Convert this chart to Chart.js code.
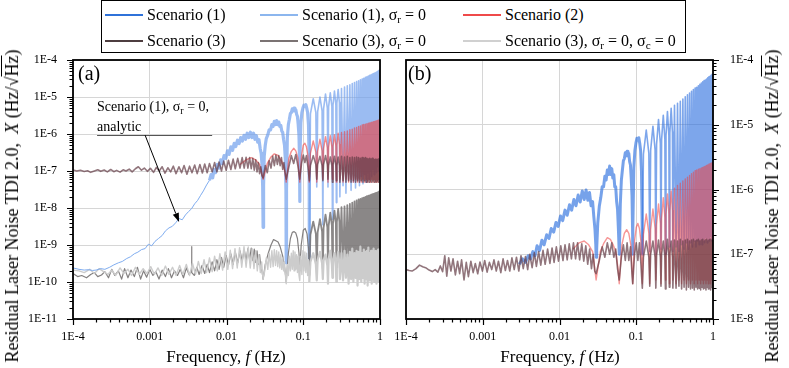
<!DOCTYPE html>
<html>
<head>
<meta charset="utf-8">
<script src="https://cdn.jsdelivr.net/npm/chart.js@4.4.1/dist/chart.umd.min.js"></script>
<style>
body { margin: 0; background: #fff; }
#wrap { position: relative; width: 789px; height: 368px; overflow: hidden; font-family: 'Liberation Serif', 'Times New Roman', serif; color: #000; }
canvas { position: absolute; top: 0; }
#cA { left: 0; }
#cB { left: 380px; }
.t { position: absolute; white-space: nowrap; }
.ctr { transform: translate(-50%, -50%); }
.rot { transform: translate(-50%, -50%) rotate(-90deg); }
sub { font-size: 70%; vertical-align: -0.3em; line-height: 0; }
.ov { text-decoration: overline; }
#legend { position: absolute; left: 101px; top: 0; width: 583px; height: 51px; border: 1.6px solid #000; background: #fff; }
</style>
</head>
<body>
<div id="wrap">
  <canvas id="cA" width="395" height="368"></canvas>
  <canvas id="cB" width="409" height="368"></canvas>
  <div id="legend"></div>
  <div class="t rot" style="left:12px;top:206px;font-size:18px;line-height:20px">Residual Laser Noise TDI 2.0,&nbsp; <i>X</i> (Hz/√<span class="ov">Hz</span>)</div>
  <div class="t rot" style="left:772px;top:206px;font-size:18px;line-height:20px">Residual Laser Noise TDI 2.0,&nbsp; <i>X</i> (Hz/√<span class="ov">Hz</span>)</div>
  <div class="t ctr" style="left:226px;top:357px;font-size:17px;line-height:20px">Frequency, <i>f</i> (Hz)</div>
  <div class="t ctr" style="left:560px;top:357px;font-size:17px;line-height:20px">Frequency, <i>f</i> (Hz)</div>
  <div class="t" style="left:78px;top:61px;font-size:20px;line-height:24px">(a)</div>
  <div class="t" style="left:408px;top:61px;font-size:20px;line-height:24px">(b)</div>
  <div class="t" style="left:97px;top:99px;font-size:14px;line-height:16px">Scenario (1), σ<sub>r</sub> = 0,</div>
  <div class="t" style="left:97px;top:119px;font-size:14px;line-height:16px">analytic</div>
</div>
<script>
// ---------- axis ticks ----------
const xTickVals = [1e-4, 1e-3, 1e-2, 1e-1, 1];
const xTickLabels = ['1E-4', '0.001', '0.01', '0.1', '1'];
const aYTickVals = [1e-11, 1e-10, 1e-9, 1e-8, 1e-7, 1e-6, 1e-5, 1e-4];
const aYTickLabels = ['1E-11', '1E-10', '1E-9', '1E-8', '1E-7', '1E-6', '1E-5', '1E-4'];
const bYTickVals = [1e-8, 1e-7, 1e-6, 1e-5, 1e-4];
const bYTickLabels = ['1E-8', '1E-7', '1E-6', '1E-5', '1E-4'];

// ---------- legend ----------
const seriesNames = ['Scenario (1)', 'Scenario (1), σ<sub>r</sub> = 0', 'Scenario (2)',
  'Scenario (3)', 'Scenario (3), σ<sub>r</sub> = 0', 'Scenario (3), σ<sub>r</sub> = 0, σ<sub>c</sub> = 0'];
const seriesColors = ['#2f72d9', '#8cb6ee', '#ef4a4a', '#4e3e40', '#7b7373', '#d0d0d0'];

// ---------- shared high-frequency grid (null / peak of the TDI lobes) ----------
const hiF = [
  0.124, 0.135, 0.146, 0.15, 0.154, 0.165, 0.176, 0.18,
  0.184, 0.195, 0.206, 0.21, 0.214, 0.225, 0.236, 0.24,
  0.244, 0.255, 0.266, 0.27, 0.274, 0.285, 0.296, 0.3,
  0.315, 0.33, 0.345, 0.36, 0.375, 0.39, 0.405, 0.42, 0.435, 0.45,
  0.465, 0.48, 0.495, 0.51, 0.525, 0.54, 0.555, 0.57, 0.585, 0.6,
  0.615, 0.63, 0.645, 0.66, 0.675, 0.69, 0.705, 0.72, 0.735, 0.75,
  0.765, 0.78, 0.795, 0.81, 0.825, 0.84, 0.855, 0.87, 0.885, 0.9,
  0.915, 0.93, 0.945, 0.96, 0.975, 0.99, 1.0];

// ---------- panel (a) ----------
// Scenario (1), sigma_r = 0 : thin low-frequency part
const aBlueLoF = [
  1.0e-4, 1.2e-4, 1.4e-4, 1.6e-4, 1.8e-4, 2.0e-4, 2.3e-4, 2.6e-4, 3.0e-4, 3.4e-4,
  3.9e-4, 4.4e-4, 5.0e-4, 5.6e-4, 6.3e-4, 7.0e-4, 7.8e-4, 8.7e-4, 9.6e-4, 1.06e-3,
  1.17e-3, 1.3e-3, 1.45e-3, 1.6e-3, 1.78e-3, 1.97e-3, 2.18e-3, 2.4e-3, 2.65e-3, 2.92e-3,
  3.2e-3, 3.5e-3, 3.85e-3, 4.2e-3, 4.6e-3, 5.0e-3, 5.5e-3, 6.0e-3];
const aBlueLoV = [
  2.4e-10, 2.2e-10, 2.1e-10, 2.15e-10, 2.05e-10, 2.1e-10, 2.3e-10, 2.2e-10, 2.5e-10, 2.9e-10,
  3.3e-10, 3.6e-10, 4.3e-10, 4.8e-10, 5.8e-10, 6.4e-10, 7.5e-10, 8.0e-10, 1.05e-9, 0.95e-9,
  1.25e-9, 1.5e-9, 1.8e-9, 2.4e-9, 2.9e-9, 3.2e-9, 4.0e-9, 5.2e-9, 4.8e-9, 6.5e-9,
  8.0e-9, 9.5e-9, 1.3e-8, 1.6e-8, 2.2e-8, 2.9e-8, 4.2e-8, 5.6e-8];
// Scenario (1), sigma_r = 0 : lobes 1-4
const aBlueMidF = [
  6.0e-3, 6.3e-3, 6.6e-3, 6.9e-3, 7.2e-3, 7.6e-3, 8.0e-3, 8.4e-3, 8.8e-3, 9.3e-3,
  9.8e-3, 0.0103, 0.0108, 0.0114, 0.012, 0.0126, 0.0132, 0.0139, 0.0146, 0.0153,
  0.0161, 0.0169, 0.0177, 0.0186, 0.0195, 0.0205, 0.0215, 0.0225, 0.0235, 0.0245,
  0.0255, 0.0265, 0.0275, 0.0283, 0.029, 0.0296, 0.03,
  0.0304, 0.031, 0.032, 0.033, 0.0345, 0.036, 0.0375, 0.039, 0.0405, 0.042,
  0.0435, 0.045, 0.0465, 0.048, 0.0495, 0.051, 0.0525, 0.054, 0.0555, 0.057,
  0.0585, 0.0595, 0.06,
  0.0605, 0.062, 0.064, 0.066, 0.068, 0.07, 0.072, 0.074, 0.076, 0.078,
  0.08, 0.082, 0.084, 0.086, 0.088, 0.0895, 0.09,
  0.0905, 0.093, 0.096, 0.099, 0.102, 0.105, 0.108, 0.111, 0.114, 0.117,
  0.1195, 0.12];
const aBlueMidV = [
  5.6e-8, 8.0e-8, 6.5e-8, 1.1e-7, 9.0e-8, 1.5e-7, 1.2e-7, 2.0e-7, 1.6e-7, 2.6e-7,
  2.2e-7, 3.5e-7, 2.8e-7, 4.5e-7, 3.6e-7, 5.6e-7, 4.6e-7, 6.8e-7, 5.5e-7, 8.0e-7,
  6.4e-7, 9.2e-7, 7.2e-7, 1.05e-6, 8.0e-7, 1.12e-6, 8.0e-7, 1.05e-6, 7.2e-7, 9.0e-7,
  6.0e-7, 7.0e-7, 4.0e-7, 3.0e-7, 1.5e-7, 4.0e-8, 3.0e-9,
  4.0e-8, 2.5e-7, 5.0e-7, 7.5e-7, 9.5e-7, 1.3e-6, 1.3e-6, 1.8e-6, 1.6e-6, 2.2e-6,
  1.8e-6, 2.3e-6, 1.8e-6, 2.1e-6, 1.6e-6, 1.7e-6, 1.2e-6, 1.1e-6, 7.0e-7, 5.0e-7,
  2.0e-7, 3.0e-8, 3.3e-10,
  3.0e-8, 8.0e-7, 1.8e-6, 2.5e-6, 3.6e-6, 3.8e-6, 4.8e-6, 4.2e-6, 5.0e-6, 4.2e-6,
  4.5e-6, 3.4e-6, 3.0e-6, 1.8e-6, 9.0e-7, 2.0e-7, 1.5e-8,
  2.0e-7, 2.0e-6, 3.8e-6, 5.0e-6, 6.0e-6, 5.6e-6, 6.2e-6, 5.0e-6, 3.8e-6, 1.8e-6,
  2.0e-7, 3.3e-10];
const aBlueHiV = [
  3.5e-6, 9.0e-6, 3.8e-6, 3.7e-8, 4.0e-6, 1.0e-5, 4.2e-6, 3.5e-9,
  4.8e-6, 1.2e-5, 5.0e-6, 3.7e-8, 5.5e-6, 1.3e-5, 5.6e-6, 5.0e-9,
  6.0e-6, 1.45e-5, 6.2e-6, 1.4e-8, 6.8e-6, 1.6e-5, 7.0e-6, 2.0e-8,
  1.7e-5, 4.0e-8, 1.85e-5, 2.5e-8, 2.0e-5, 6.0e-8, 2.15e-5, 3.0e-8, 2.3e-5, 5.0e-8,
  2.45e-5, 3.5e-8, 2.6e-5, 6.0e-8, 2.75e-5, 4.0e-8, 2.9e-5, 7.0e-8, 3.05e-5, 4.5e-8,
  3.2e-5, 8.0e-8, 3.4e-5, 5.0e-8, 3.5e-5, 9.0e-8, 3.7e-5, 6.0e-8, 3.85e-5, 1.0e-7,
  4.0e-5, 7.0e-8, 4.15e-5, 1.1e-7, 4.3e-5, 8.0e-8, 4.45e-5, 1.2e-7, 4.6e-5, 9.0e-8,
  4.8e-5, 1.3e-7, 5.0e-5, 1.0e-7, 5.3e-5, 1.4e-7, 4.0e-5];

// Scenario (2) (both panels share the mid-band frequencies)
const redMidF = [
  0.015, 0.018, 0.021, 0.024, 0.027, 0.03, 0.034, 0.038, 0.042, 0.046,
  0.05, 0.054, 0.058, 0.06, 0.065, 0.07, 0.075, 0.08, 0.085, 0.09,
  0.095, 0.1, 0.105, 0.11, 0.115, 0.12];
const aRedV = [
  1.5e-7, 2.0e-7, 2.3e-7, 2.0e-7, 1.5e-7, 6.0e-8, 1.6e-7, 2.4e-7, 2.9e-7, 2.7e-7,
  2.2e-7, 1.6e-7, 9.0e-8, 5.0e-8, 2.2e-7, 3.4e-7, 4.1e-7, 3.5e-7, 2.3e-7, 5.0e-8,
  2.6e-7, 5.0e-7, 5.6e-7, 4.5e-7, 2.6e-7, 5.0e-8];
const aRedHiV = [
  3.0e-7, 6.5e-7, 3.2e-7, 5.0e-8, 3.4e-7, 7.2e-7, 3.5e-7, 6.0e-8,
  4.0e-7, 8.5e-7, 4.2e-7, 5.0e-8, 4.4e-7, 9.0e-7, 4.5e-7, 6.0e-8,
  4.6e-7, 9.5e-7, 4.8e-7, 5.0e-8, 5.0e-7, 1.05e-6, 5.2e-7, 6.0e-8,
  1.1e-6, 5.0e-8, 1.15e-6, 6.0e-8, 1.2e-6, 5.0e-8, 1.3e-6, 6.0e-8, 1.35e-6, 5.0e-8,
  1.45e-6, 6.0e-8, 1.5e-6, 5.0e-8, 1.6e-6, 6.0e-8, 1.65e-6, 5.0e-8, 1.75e-6, 6.0e-8,
  1.8e-6, 5.0e-8, 1.85e-6, 6.0e-8, 1.9e-6, 5.0e-8, 1.95e-6, 6.0e-8, 2.0e-6, 5.0e-8,
  2.05e-6, 6.0e-8, 2.1e-6, 5.0e-8, 2.15e-6, 6.0e-8, 2.2e-6, 5.0e-8, 2.25e-6, 6.0e-8,
  2.3e-6, 5.0e-8, 2.35e-6, 6.0e-8, 2.4e-6, 5.0e-8, 2.0e-6];

// Scenario (3)
const aBrownF = [
  1.0e-4, 1.12e-4, 1.25e-4, 1.4e-4, 1.55e-4, 1.7e-4, 1.9e-4, 2.1e-4, 2.3e-4, 2.55e-4,
  2.8e-4, 3.1e-4, 3.4e-4, 3.7e-4, 4.1e-4, 4.5e-4, 4.9e-4, 5.4e-4, 5.9e-4, 6.5e-4,
  7.1e-4, 7.8e-4, 8.5e-4, 9.3e-4, 1.02e-3, 1.12e-3, 1.22e-3, 1.33e-3, 1.45e-3, 1.58e-3,
  1.72e-3, 1.87e-3, 2.03e-3, 2.2e-3, 2.4e-3, 2.6e-3, 2.8e-3, 3.05e-3, 3.3e-3, 3.55e-3,
  3.85e-3, 4.15e-3, 4.5e-3, 4.85e-3, 5.2e-3, 5.6e-3, 6.0e-3, 6.5e-3, 7.0e-3, 7.5e-3,
  8.0e-3, 8.6e-3, 9.2e-3, 9.9e-3, 0.0106, 0.0114, 0.0122, 0.013, 0.014, 0.015,
  0.016, 0.017, 0.018, 0.019, 0.02, 0.021, 0.022, 0.023, 0.024, 0.025,
  0.026, 0.027, 0.028, 0.029, 0.03, 0.032, 0.034, 0.036, 0.038, 0.04,
  0.042, 0.044, 0.046, 0.048, 0.05, 0.052, 0.054, 0.056, 0.058, 0.06,
  0.065, 0.07, 0.075, 0.08, 0.085, 0.09, 0.095, 0.1, 0.105, 0.11,
  0.115, 0.12];
const aBrownV = [
  1.07e-7, 1.0e-7, 1.05e-7, 0.97e-7, 1.02e-7, 0.92e-7, 1.0e-7, 1.08e-7, 0.98e-7, 1.06e-7,
  0.95e-7, 1.1e-7, 0.96e-7, 1.04e-7, 0.93e-7, 1.08e-7, 1.0e-7, 1.12e-7, 0.95e-7, 1.15e-7,
  1.3e-7, 1.05e-7, 1.2e-7, 0.98e-7, 1.18e-7, 0.92e-7, 1.25e-7, 1.0e-7, 1.3e-7, 0.88e-7,
  1.22e-7, 0.95e-7, 1.35e-7, 0.85e-7, 1.3e-7, 0.9e-7, 1.4e-7, 0.82e-7, 1.35e-7, 0.9e-7,
  1.45e-7, 0.85e-7, 1.5e-7, 0.88e-7, 1.55e-7, 0.9e-7, 1.6e-7, 0.95e-7, 1.7e-7, 0.95e-7,
  1.75e-7, 1.0e-7, 1.85e-7, 1.05e-7, 1.95e-7, 1.1e-7, 2.1e-7, 1.15e-7, 2.2e-7, 1.2e-7,
  2.3e-7, 1.2e-7, 2.35e-7, 1.2e-7, 2.3e-7, 1.15e-7, 2.2e-7, 1.05e-7, 2.0e-7, 0.95e-7,
  1.7e-7, 0.85e-7, 1.3e-7, 0.75e-7, 0.65e-7, 1.4e-7, 0.9e-7, 1.9e-7, 1.2e-7, 2.5e-7,
  1.4e-7, 2.7e-7, 1.5e-7, 2.6e-7, 1.4e-7, 2.3e-7, 1.1e-7, 1.7e-7, 0.9e-7, 0.6e-7,
  1.3e-7, 2.6e-7, 1.6e-7, 2.8e-7, 1.4e-7, 0.6e-7, 1.6e-7, 2.7e-7, 1.7e-7, 2.6e-7,
  1.3e-7, 0.55e-7];
const aBrownHiV = [
  1.4e-7, 2.6e-7, 1.5e-7, 6.0e-8, 1.5e-7, 2.5e-7, 1.4e-7, 5.5e-8,
  1.5e-7, 2.6e-7, 1.5e-7, 6.0e-8, 1.4e-7, 2.4e-7, 1.4e-7, 5.0e-8,
  1.5e-7, 2.5e-7, 1.4e-7, 5.5e-8, 1.4e-7, 2.4e-7, 1.4e-7, 5.0e-8,
  2.5e-7, 5.5e-8, 2.4e-7, 5.0e-8, 2.5e-7, 5.5e-8, 2.3e-7, 5.0e-8, 2.4e-7, 5.5e-8,
  2.3e-7, 5.0e-8, 2.4e-7, 5.5e-8, 2.3e-7, 5.0e-8, 2.2e-7, 5.5e-8, 2.3e-7, 5.0e-8,
  2.2e-7, 5.5e-8, 2.3e-7, 5.0e-8, 2.2e-7, 5.5e-8, 2.1e-7, 5.0e-8, 2.2e-7, 5.5e-8,
  2.1e-7, 5.0e-8, 2.2e-7, 5.5e-8, 2.1e-7, 5.0e-8, 2.0e-7, 5.5e-8, 2.1e-7, 5.0e-8,
  2.0e-7, 5.5e-8, 2.1e-7, 5.0e-8, 2.0e-7, 5.5e-8, 1.5e-7];

// Scenario (3), sigma_r = 0
const aGrayF = [
  1.0e-4, 1.15e-4, 1.3e-4, 1.5e-4, 1.7e-4, 1.9e-4, 2.1e-4, 2.35e-4, 2.6e-4, 2.9e-4,
  3.2e-4, 3.5e-4, 3.9e-4, 4.3e-4, 4.7e-4, 5.2e-4, 5.7e-4, 6.3e-4, 6.9e-4, 7.6e-4,
  8.3e-4, 9.1e-4, 1.0e-3, 1.1e-3, 1.2e-3, 1.32e-3, 1.45e-3, 1.6e-3, 1.75e-3, 1.92e-3,
  2.1e-3, 2.3e-3, 2.5e-3, 2.75e-3, 3.0e-3, 3.25e-3, 3.45e-3, 3.5e-3, 3.55e-3, 3.8e-3,
  4.1e-3, 4.4e-3, 4.8e-3, 5.2e-3, 5.6e-3, 6.0e-3, 6.5e-3, 7.0e-3, 7.5e-3, 8.0e-3,
  8.6e-3, 9.2e-3, 9.9e-3, 0.0106, 0.0114, 0.0122, 0.013, 0.014, 0.015, 0.016,
  0.017, 0.018, 0.019, 0.02, 0.021, 0.022, 0.023, 0.024, 0.025, 0.026,
  0.027, 0.028, 0.029, 0.03, 0.032, 0.035, 0.038, 0.041, 0.044, 0.047,
  0.05, 0.054, 0.058, 0.06, 0.064, 0.068, 0.072, 0.076, 0.08, 0.084,
  0.088, 0.09, 0.094, 0.1, 0.106, 0.112, 0.117, 0.12];
const aGrayV = [
  1.7e-10, 1.4e-10, 1.5e-10, 1.3e-10, 1.6e-10, 1.8e-10, 1.4e-10, 1.55e-10, 1.9e-10, 1.3e-10,
  2.2e-10, 1.5e-10, 2.0e-10, 1.2e-10, 2.3e-10, 1.3e-10, 2.1e-10, 1.4e-10, 2.5e-10, 1.2e-10,
  2.0e-10, 1.35e-10, 2.2e-10, 1.5e-10, 1.9e-10, 1.2e-10, 2.1e-10, 1.4e-10, 2.3e-10, 1.3e-10,
  2.0e-10, 1.5e-10, 2.2e-10, 1.3e-10, 2.4e-10, 1.6e-10, 2.0e-10, 9.0e-10, 1.8e-10, 1.5e-10,
  2.5e-10, 1.6e-10, 2.8e-10, 1.7e-10, 3.0e-10, 1.8e-10, 3.5e-10, 2.0e-10, 4.0e-10, 2.2e-10,
  4.6e-10, 2.5e-10, 5.2e-10, 2.8e-10, 5.8e-10, 3.0e-10, 6.5e-10, 3.3e-10, 7.0e-10, 3.6e-10,
  7.6e-10, 3.8e-10, 8.0e-10, 4.0e-10, 8.2e-10, 3.8e-10, 7.8e-10, 3.4e-10, 7.0e-10, 3.0e-10,
  5.5e-10, 2.5e-10, 2.0e-10, 1.2e-10, 3.0e-10, 6.0e-10, 1.0e-9, 1.4e-9, 1.3e-9, 1.2e-9,
  9.0e-10, 5.0e-10, 2.0e-10, 1.0e-10, 6.0e-10, 1.5e-9, 2.2e-9, 2.3e-9, 2.1e-9, 1.5e-9,
  6.0e-10, 2.0e-10, 1.0e-9, 2.5e-9, 2.8e-9, 2.0e-9, 8.0e-10, 1.5e-10];
const aGrayHiV = [
  1.9e-9, 4.3e-9, 2.0e-9, 2.5e-10, 2.2e-9, 5.0e-9, 2.3e-9, 2.2e-10,
  2.9e-9, 6.6e-9, 3.0e-9, 2.5e-10, 3.3e-9, 7.5e-9, 3.4e-9, 2.3e-10,
  3.8e-9, 8.5e-9, 3.9e-9, 2.5e-10, 4.2e-9, 9.5e-9, 4.3e-9, 2.4e-10,
  1.05e-8, 2.5e-10, 1.1e-8, 2.3e-10, 1.2e-8, 2.6e-10, 1.3e-8, 2.4e-10, 1.4e-8, 2.6e-10,
  1.5e-8, 2.5e-10, 1.6e-8, 2.7e-10, 1.7e-8, 2.5e-10, 1.75e-8, 2.8e-10, 1.85e-8, 2.6e-10,
  1.9e-8, 2.8e-10, 2.0e-8, 2.6e-10, 2.1e-8, 2.9e-10, 2.15e-8, 2.7e-10, 2.2e-8, 3.0e-10,
  2.3e-8, 2.7e-10, 2.35e-8, 3.0e-10, 2.4e-8, 2.8e-10, 2.5e-8, 3.0e-10, 2.55e-8, 2.8e-10,
  2.6e-8, 3.0e-10, 2.7e-8, 2.9e-10, 2.8e-8, 3.0e-10, 2.0e-8];

// Scenario (3), sigma_r = 0, sigma_c = 0
const aLightF = [
  1.0e-4, 1.2e-4, 1.4e-4, 1.65e-4, 1.9e-4, 2.2e-4, 2.5e-4, 2.85e-4, 3.2e-4, 3.6e-4,
  4.1e-4, 4.6e-4, 5.2e-4, 5.8e-4, 6.5e-4, 7.3e-4, 8.2e-4, 9.2e-4, 1.03e-3, 1.15e-3,
  1.28e-3, 1.43e-3, 1.6e-3, 1.78e-3, 1.98e-3, 2.2e-3, 2.45e-3, 2.7e-3, 3.0e-3, 3.3e-3,
  3.6e-3, 3.95e-3, 4.3e-3, 4.7e-3, 5.1e-3, 5.5e-3, 6.0e-3, 6.5e-3, 7.0e-3, 7.6e-3,
  8.2e-3, 8.9e-3, 9.6e-3, 0.0104, 0.0112, 0.012, 0.0129, 0.0138, 0.0148, 0.0158,
  0.0169, 0.018, 0.0192, 0.0204, 0.0216, 0.0228, 0.024, 0.0252, 0.0264, 0.0276,
  0.0287, 0.0296, 0.03,
  0.0315, 0.033, 0.0345, 0.036, 0.0375, 0.039, 0.0405, 0.042, 0.0435, 0.045,
  0.0465, 0.048, 0.0495, 0.051, 0.0525, 0.054, 0.0555, 0.057, 0.0585, 0.06,
  0.062, 0.064, 0.066, 0.068, 0.07, 0.072, 0.074, 0.076, 0.078, 0.08,
  0.082, 0.084, 0.086, 0.088, 0.09, 0.093, 0.096, 0.099, 0.102, 0.105,
  0.108, 0.111, 0.114, 0.117, 0.12];
const aLightV = [
  2.1e-10, 2.0e-10, 1.8e-10, 2.2e-10, 1.7e-10, 2.3e-10, 1.9e-10, 1.6e-10, 2.1e-10, 1.5e-10,
  2.4e-10, 1.7e-10, 2.2e-10, 1.5e-10, 2.5e-10, 1.6e-10, 2.3e-10, 1.7e-10, 2.6e-10, 1.6e-10,
  2.4e-10, 1.5e-10, 2.7e-10, 1.6e-10, 2.5e-10, 1.5e-10, 2.8e-10, 1.6e-10, 3.0e-10, 1.5e-10,
  3.2e-10, 1.6e-10, 3.6e-10, 1.7e-10, 4.0e-10, 1.8e-10, 4.5e-10, 1.9e-10, 5.0e-10, 2.0e-10,
  5.8e-10, 2.1e-10, 6.5e-10, 2.2e-10, 7.2e-10, 2.3e-10, 8.0e-10, 2.4e-10, 8.5e-10, 2.5e-10,
  9.0e-10, 2.5e-10, 8.8e-10, 2.4e-10, 8.0e-10, 2.3e-10, 7.0e-10, 2.0e-10, 5.5e-10, 1.8e-10,
  3.5e-10, 1.5e-10, 1.2e-10,
  2.0e-10, 4.5e-10, 2.2e-10, 6.0e-10, 2.5e-10, 7.0e-10, 2.6e-10, 7.5e-10, 2.8e-10, 7.0e-10,
  2.6e-10, 6.5e-10, 2.4e-10, 5.5e-10, 2.2e-10, 4.5e-10, 2.0e-10, 3.5e-10, 1.6e-10, 9.0e-11,
  3.0e-10, 1.5e-10, 5.0e-10, 2.0e-10, 6.0e-10, 2.2e-10, 7.0e-10, 2.0e-10, 6.5e-10, 2.2e-10,
  5.5e-10, 1.8e-10, 5.0e-10, 1.5e-10, 1.1e-10, 5.0e-10, 1.6e-10, 7.0e-10, 2.0e-10, 6.5e-10,
  1.8e-10, 6.0e-10, 1.5e-10, 4.0e-10, 1.0e-10];
const aLightHiV = [
  3.5e-10, 6.0e-10, 3.0e-10, 1.1e-10, 4.0e-10, 6.5e-10, 3.2e-10, 1.2e-10,
  3.8e-10, 5.5e-10, 2.8e-10, 9.0e-11, 4.2e-10, 7.0e-10, 3.0e-10, 1.3e-10,
  3.6e-10, 6.0e-10, 2.6e-10, 1.0e-10, 4.0e-10, 6.5e-10, 3.0e-10, 1.2e-10,
  6.0e-10, 1.1e-10, 7.0e-10, 1.3e-10, 5.5e-10, 9.0e-11, 6.5e-10, 1.2e-10, 8.0e-10, 1.0e-10,
  6.0e-10, 1.3e-10, 7.0e-10, 8.0e-11, 6.5e-10, 1.2e-10, 9.0e-10, 1.0e-10, 6.0e-10, 1.3e-10,
  7.5e-10, 9.0e-11, 6.5e-10, 1.2e-10, 7.0e-10, 8.0e-11, 8.5e-10, 1.1e-10, 6.0e-10, 1.3e-10,
  7.0e-10, 9.0e-11, 6.5e-10, 1.2e-10, 8.0e-10, 1.0e-10, 6.5e-10, 1.3e-10, 7.0e-10, 9.0e-11,
  6.0e-10, 1.2e-10, 7.5e-10, 1.0e-10, 6.5e-10, 1.2e-10, 5.0e-10];

// ---------- panel (b) ----------
// Scenario (1)
const bBlueF = [
  3.0e-3, 3.3e-3, 3.6e-3, 3.9e-3, 4.2e-3, 4.5e-3, 4.8e-3, 5.1e-3, 5.5e-3, 5.9e-3,
  6.3e-3, 6.8e-3, 7.3e-3, 7.8e-3, 8.4e-3, 9.0e-3, 9.6e-3, 0.0103, 0.011, 0.0118,
  0.0126, 0.0135, 0.0144, 0.0154, 0.0164, 0.0175, 0.0186, 0.0198, 0.021, 0.0222,
  0.0234, 0.0246, 0.0258, 0.027, 0.028, 0.029, 0.0297, 0.03,
  0.0305, 0.0315, 0.033, 0.0345, 0.036, 0.0375, 0.039, 0.0405, 0.042, 0.0435,
  0.045, 0.0465, 0.048, 0.0495, 0.051, 0.0525, 0.054, 0.0555, 0.057, 0.0585,
  0.0595, 0.06,
  0.0605, 0.062, 0.064, 0.066, 0.068, 0.07, 0.072, 0.074, 0.076, 0.078,
  0.08, 0.082, 0.084, 0.086, 0.088, 0.0895, 0.09,
  0.0905, 0.093, 0.096, 0.099, 0.102, 0.105, 0.108, 0.111, 0.114, 0.117,
  0.1195, 0.12];
const bBlueV = [
  7.0e-8, 8.5e-8, 7.5e-8, 9.5e-8, 8.5e-8, 1.1e-7, 9.5e-8, 1.35e-7, 1.15e-7, 1.65e-7,
  1.4e-7, 2.0e-7, 1.75e-7, 2.5e-7, 2.2e-7, 3.1e-7, 2.7e-7, 3.9e-7, 3.3e-7, 4.8e-7,
  4.0e-7, 5.8e-7, 4.8e-7, 7.0e-7, 5.6e-7, 8.2e-7, 6.4e-7, 9.5e-7, 7.0e-7, 9.8e-7,
  6.8e-7, 9.0e-7, 5.6e-7, 6.5e-7, 3.8e-7, 2.4e-7, 1.4e-7, 9.0e-8,
  1.2e-7, 3.0e-7, 5.5e-7, 7.5e-7, 1.1e-6, 1.1e-6, 1.6e-6, 1.4e-6, 2.0e-6, 1.7e-6,
  2.3e-6, 1.7e-6, 2.1e-6, 1.5e-6, 1.7e-6, 1.1e-6, 1.1e-6, 6.5e-7, 5.0e-7, 2.5e-7,
  1.4e-7, 1.0e-7,
  1.3e-7, 6.0e-7, 1.4e-6, 2.0e-6, 2.8e-6, 3.0e-6, 3.7e-6, 3.3e-6, 3.9e-6, 3.3e-6,
  3.6e-6, 2.7e-6, 2.4e-6, 1.5e-6, 8.0e-7, 2.5e-7, 1.0e-7,
  2.5e-7, 2.2e-6, 4.0e-6, 5.2e-6, 6.2e-6, 5.8e-6, 6.3e-6, 5.2e-6, 4.0e-6, 1.9e-6,
  2.5e-7, 1.0e-7];
const bBlueHiV = [
  3.5e-6, 8.3e-6, 3.6e-6, 1.1e-7, 4.0e-6, 9.5e-6, 4.1e-6, 1.0e-7,
  5.0e-6, 1.2e-5, 5.2e-6, 1.2e-7, 5.9e-6, 1.4e-5, 6.0e-6, 1.0e-7,
  6.7e-6, 1.6e-5, 6.9e-6, 1.3e-7, 7.5e-6, 1.8e-5, 7.7e-6, 1.1e-7,
  2.0e-5, 1.3e-7, 2.15e-5, 1.1e-7, 2.3e-5, 1.4e-7, 2.5e-5, 1.2e-7, 2.7e-5, 1.5e-7,
  2.9e-5, 1.2e-7, 3.1e-5, 1.5e-7, 3.3e-5, 1.3e-7, 3.5e-5, 1.6e-7, 3.7e-5, 1.3e-7,
  3.8e-5, 1.6e-7, 4.0e-5, 1.4e-7, 4.2e-5, 1.7e-7, 4.4e-5, 1.4e-7, 4.6e-5, 1.7e-7,
  4.8e-5, 1.5e-7, 4.9e-5, 1.8e-7, 5.1e-5, 1.5e-7, 5.3e-5, 1.8e-7, 5.5e-5, 1.6e-7,
  5.6e-5, 1.9e-7, 5.8e-5, 1.6e-7, 6.0e-5, 1.9e-7, 4.5e-5];

// Scenario (2)
const bRedV = [
  1.2e-7, 1.5e-7, 1.6e-7, 1.4e-7, 1.1e-7, 4.0e-8, 1.1e-7, 1.5e-7, 1.8e-7, 1.7e-7,
  1.4e-7, 1.1e-7, 6.0e-8, 3.5e-8, 1.4e-7, 2.1e-7, 2.4e-7, 2.1e-7, 1.4e-7, 3.5e-8,
  1.6e-7, 2.6e-7, 3.0e-7, 2.5e-7, 1.6e-7, 3.5e-8];
const bRedHiV = [
  2.0e-7, 4.2e-7, 2.1e-7, 3.5e-8, 2.4e-7, 5.0e-7, 2.5e-7, 4.0e-8,
  2.9e-7, 6.0e-7, 3.0e-7, 3.5e-8, 3.6e-7, 7.5e-7, 3.7e-7, 4.0e-8,
  4.1e-7, 8.5e-7, 4.2e-7, 3.5e-8, 4.6e-7, 9.5e-7, 4.7e-7, 4.0e-8,
  1.05e-6, 3.5e-8, 1.15e-6, 4.0e-8, 1.25e-6, 3.5e-8, 1.35e-6, 4.0e-8, 1.45e-6, 3.5e-8,
  1.55e-6, 4.0e-8, 1.65e-6, 3.5e-8, 1.75e-6, 4.0e-8, 1.85e-6, 3.5e-8, 1.95e-6, 4.0e-8,
  2.0e-6, 3.5e-8, 2.05e-6, 4.0e-8, 2.1e-6, 3.5e-8, 2.15e-6, 4.0e-8, 2.2e-6, 3.5e-8,
  2.25e-6, 4.0e-8, 2.3e-6, 3.5e-8, 2.35e-6, 4.0e-8, 2.4e-6, 3.5e-8, 2.45e-6, 4.0e-8,
  2.5e-6, 3.5e-8, 2.55e-6, 4.0e-8, 2.6e-6, 3.5e-8, 2.2e-6];

// Scenario (3)
const bBrownF = [
  1.0e-4, 1.1e-4, 1.2e-4, 1.35e-4, 1.5e-4, 1.65e-4, 1.8e-4, 2.0e-4, 2.2e-4, 2.4e-4,
  2.6e-4, 2.8e-4, 3.0e-4, 3.2e-4, 3.4e-4, 3.6e-4, 3.85e-4, 4.1e-4, 4.4e-4, 4.7e-4,
  5.0e-4, 5.3e-4, 5.7e-4, 6.1e-4, 6.5e-4, 7.0e-4, 7.5e-4, 8.0e-4, 8.6e-4, 9.2e-4,
  9.9e-4, 1.06e-3, 1.14e-3, 1.22e-3, 1.31e-3, 1.4e-3, 1.5e-3, 1.6e-3, 1.72e-3, 1.84e-3,
  1.97e-3, 2.1e-3, 2.25e-3, 2.4e-3, 2.57e-3, 2.75e-3, 2.95e-3, 3.15e-3, 3.37e-3, 3.6e-3,
  3.85e-3, 4.1e-3, 4.4e-3, 4.7e-3, 5.0e-3, 5.35e-3, 5.7e-3, 6.1e-3, 6.5e-3, 7.0e-3,
  7.5e-3, 8.0e-3, 8.5e-3, 9.1e-3, 9.7e-3, 0.0104, 0.0111, 0.0118, 0.0126, 0.0134,
  0.0143, 0.0152, 0.0162, 0.0172, 0.0183, 0.0195, 0.0207, 0.022, 0.0233, 0.0247,
  0.0261, 0.0275, 0.0288, 0.03,
  0.033, 0.036, 0.039, 0.042, 0.045, 0.048, 0.051, 0.054, 0.057, 0.06,
  0.064, 0.068, 0.072, 0.076, 0.08, 0.084, 0.088, 0.09, 0.095, 0.1,
  0.105, 0.11, 0.115, 0.12];
const bBrownV = [
  5.8e-8, 5.6e-8, 5.5e-8, 6.0e-8, 6.8e-8, 6.4e-8, 6.2e-8, 5.7e-8, 5.4e-8, 5.8e-8,
  5.3e-8, 6.6e-8, 5.4e-8, 9.5e-8, 4.6e-8, 8.8e-8, 5.5e-8, 8.5e-8, 4.8e-8, 7.8e-8,
  5.0e-8, 8.2e-8, 4.0e-8, 7.5e-8, 4.5e-8, 7.8e-8, 5.2e-8, 7.2e-8, 5.0e-8, 7.6e-8,
  5.5e-8, 8.0e-8, 5.3e-8, 7.5e-8, 5.8e-8, 8.2e-8, 5.5e-8, 7.8e-8, 5.2e-8, 8.5e-8,
  5.6e-8, 8.0e-8, 5.5e-8, 8.8e-8, 5.8e-8, 9.0e-8, 5.5e-8, 9.5e-8, 6.0e-8, 9.2e-8,
  5.8e-8, 1.0e-7, 6.2e-8, 1.05e-7, 6.5e-8, 1.1e-7, 6.8e-8, 1.15e-7, 7.0e-8, 1.2e-7,
  7.2e-8, 1.25e-7, 7.5e-8, 1.3e-7, 7.8e-8, 1.35e-7, 8.0e-8, 1.4e-7, 8.2e-8, 1.45e-7,
  8.5e-8, 1.5e-7, 8.5e-8, 1.5e-7, 8.2e-8, 1.45e-7, 7.8e-8, 1.35e-7, 7.0e-8, 1.2e-7,
  6.0e-8, 1.0e-7, 5.5e-8, 5.0e-8,
  8.0e-8, 1.3e-7, 9.0e-8, 1.5e-7, 1.0e-7, 1.5e-7, 9.0e-8, 1.2e-7, 6.0e-8, 4.0e-8,
  9.0e-8, 1.4e-7, 8.0e-8, 1.5e-7, 8.0e-8, 1.3e-7, 5.0e-8, 3.5e-8, 1.0e-7, 1.5e-7,
  8.0e-8, 1.5e-7, 7.0e-8, 3.0e-8];
const bBrownHiV = [
  9.0e-8, 1.6e-7, 9.0e-8, 3.2e-8, 1.0e-7, 1.6e-7, 9.0e-8, 3.0e-8,
  9.5e-8, 1.65e-7, 9.0e-8, 3.2e-8, 1.0e-7, 1.6e-7, 9.0e-8, 2.9e-8,
  9.5e-8, 1.7e-7, 9.0e-8, 3.1e-8, 1.0e-7, 1.6e-7, 9.0e-8, 3.0e-8,
  1.65e-7, 3.0e-8, 1.6e-7, 3.2e-8, 1.7e-7, 2.9e-8, 1.6e-7, 3.1e-8, 1.65e-7, 2.8e-8,
  1.7e-7, 3.1e-8, 1.6e-7, 2.9e-8, 1.65e-7, 3.0e-8, 1.7e-7, 2.8e-8, 1.6e-7, 3.1e-8,
  1.65e-7, 2.9e-8, 1.7e-7, 3.0e-8, 1.6e-7, 2.8e-8, 1.65e-7, 3.1e-8, 1.7e-7, 2.9e-8,
  1.6e-7, 3.0e-8, 1.65e-7, 2.8e-8, 1.7e-7, 3.1e-8, 1.6e-7, 2.9e-8, 1.65e-7, 3.0e-8,
  1.7e-7, 2.8e-8, 1.6e-7, 3.1e-8, 1.65e-7, 2.9e-8, 1.2e-7];

// ---------- annotation in panel (a), in data coordinates ----------
const annoUnderline = { x1: 2.06e-4, x2: 6.5e-3, y: 9.3e-7 };
const annoArrow = { x1: 8.7e-4, y1: 9.3e-7, x2: 2.41e-3, y2: 4.2e-9 };

// ---------- helpers ----------
function pts(f, v) {
  const n = Math.min(f.length, v.length);
  const out = [];
  for (let i = 0; i < n; i++) out.push({ x: f[i], y: v[i] });
  return out;
}
function line(data, color, width) {
  return { data: data, borderColor: color, borderWidth: width, pointRadius: 0, tension: 0, fill: false,
    borderJoinStyle: 'round' };
}
// high-frequency part starts at the last point of the lower-band part
function hiPart(midF, midV, hiV) {
  return pts(midF.slice(-1).concat(hiF), midV.slice(-1).concat(hiV));
}
const tickFont = { family: "'Liberation Serif', 'Times New Roman', serif", size: 12 };
function logAxis(min, max, vals, labels, fit, pad, extra) {
  return Object.assign({
    type: 'logarithmic', min: min, max: max,
    afterBuildTicks: s => { s.ticks = vals.map(v => ({ value: v })); },
    afterFit: fit,
    grid: { color: '#d6d6d6', lineWidth: 1, drawTicks: false },
    border: { display: false },
    ticks: { autoSkip: false, maxRotation: 0, padding: pad, color: '#000', font: tickFont,
      callback: (v, i) => labels[i] }
  }, extra || {});
}

// frame + outward tick marks drawn from the scales
function framePlugin(ySide) {
  return {
    id: 'frame' + ySide,
    afterDraw(chart) {
      const { ctx, chartArea: a, scales } = chart;
      ctx.save();
      ctx.strokeStyle = '#000';
      ctx.lineWidth = 1.2;
      ctx.beginPath();
      const xs = scales.x, ys = scales.y;
      for (let e = -12; e <= 0; e++) {
        for (let k = 1; k <= 9; k++) {
          const v = k * Math.pow(10, e);
          const len = k === 1 ? 6 : 3.5;
          if (v >= xs.min * 0.999 && v <= xs.max * 1.001) {
            const px = Math.round(xs.getPixelForValue(v)) + 0.5;
            ctx.moveTo(px, a.bottom); ctx.lineTo(px, a.bottom + len);
          }
          if (v >= ys.min * 0.999 && v <= ys.max * 1.001) {
            const py = Math.round(ys.getPixelForValue(v)) + 0.5;
            if (ySide === 'left') { ctx.moveTo(a.left - len, py); ctx.lineTo(a.left, py); }
            else { ctx.moveTo(a.right, py); ctx.lineTo(a.right + len, py); }
          }
        }
      }
      ctx.stroke();
      ctx.lineWidth = 1.8;
      ctx.strokeRect(a.left, a.top, a.width, a.height);
      ctx.restore();
    }
  };
}

const arrowPlugin = {
  id: 'arrow',
  afterDraw(chart) {
    const { ctx, scales } = chart;
    const xs = scales.x, ys = scales.y;
    ctx.save();
    ctx.strokeStyle = '#555';
    ctx.lineWidth = 1;
    ctx.beginPath();
    const uy = Math.round(ys.getPixelForValue(annoUnderline.y)) + 0.5;
    ctx.moveTo(xs.getPixelForValue(annoUnderline.x1), uy);
    ctx.lineTo(xs.getPixelForValue(annoUnderline.x2), uy);
    ctx.stroke();
    const x1 = xs.getPixelForValue(annoArrow.x1), y1 = ys.getPixelForValue(annoArrow.y1);
    const x2 = xs.getPixelForValue(annoArrow.x2), y2 = ys.getPixelForValue(annoArrow.y2);
    const ang = Math.atan2(y2 - y1, x2 - x1);
    const hl = 9, hw = 3.2;
    const bx = x2 - hl * Math.cos(ang), by = y2 - hl * Math.sin(ang);
    ctx.strokeStyle = '#000';
    ctx.beginPath();
    ctx.moveTo(x1, y1); ctx.lineTo(bx, by);
    ctx.stroke();
    ctx.fillStyle = '#000';
    ctx.beginPath();
    ctx.moveTo(x2, y2);
    ctx.lineTo(bx + hw * Math.sin(ang), by - hw * Math.cos(ang));
    ctx.lineTo(bx - hw * Math.sin(ang), by + hw * Math.cos(ang));
    ctx.closePath();
    ctx.fill();
    ctx.restore();
  }
};

const common = {
  responsive: false, animation: false, events: [], devicePixelRatio: 1,
  plugins: { legend: { display: false }, tooltip: { enabled: false } }
};

// ---------- panel (a) ----------
new Chart(document.getElementById('cA'), {
  type: 'line',
  data: {
    datasets: [
      line(pts(aBlueLoF, aBlueLoV), 'rgba(120,168,238,0.95)', 1),
      line(pts(aLightF, aLightV), 'rgba(204,204,204,1)', 1.4),
      line(hiPart(aLightF, aLightV, aLightHiV), 'rgba(204,204,204,1)', 2.2),
      line(pts(aGrayF, aGrayV), 'rgba(118,114,114,0.9)', 1.2),
      line(hiPart(aGrayF, aGrayV, aGrayHiV), 'rgba(118,114,114,0.85)', 1.8),
      line(pts(aBrownF.concat(hiF), aBrownV.concat(aBrownHiV)), 'rgba(98,58,68,0.7)', 1.6),
      line(pts(redMidF.concat(hiF), aRedV.concat(aRedHiV)), 'rgba(238,64,64,0.6)', 1.4),
      line(pts(aBlueMidF, aBlueMidV), 'rgba(112,160,236,0.7)', 3.2),
      line(hiPart(aBlueMidF, aBlueMidV, aBlueHiV), 'rgba(112,160,236,0.7)', 1.6)
    ]
  },
  options: Object.assign({}, common, {
    layout: { padding: { top: 60, right: 15, left: 0, bottom: 0 } },
    scales: {
      x: logAxis(1e-4, 1, xTickVals, xTickLabels, s => { s.height = 49; }, 11),
      y: logAxis(1e-11, 1e-4, aYTickVals, aYTickLabels, s => { s.width = 73; }, 16,
        { position: 'left' })
    }
  }),
  plugins: [framePlugin('left'), arrowPlugin]
});

// ---------- panel (b) ----------
new Chart(document.getElementById('cB'), {
  type: 'line',
  data: {
    datasets: [
      line(pts(bBrownF.concat(hiF), bBrownV.concat(bBrownHiV)), 'rgba(98,58,68,0.7)', 1.6),
      line(pts(redMidF.concat(hiF), bRedV.concat(bRedHiV)), 'rgba(238,64,64,0.55)', 1.4),
      line(pts(bBlueF, bBlueV), 'rgba(45,112,222,0.65)', 3),
      line(hiPart(bBlueF, bBlueV, bBlueHiV), 'rgba(45,112,222,0.62)', 1.6)
    ]
  },
  options: Object.assign({}, common, {
    layout: { padding: { top: 60, right: 0, left: 26, bottom: 0 } },
    scales: {
      x: logAxis(1e-4, 1, xTickVals, xTickLabels, s => { s.height = 49; }, 11),
      y: logAxis(1e-8, 1e-4, bYTickVals, bYTickLabels, s => { s.width = 76; }, 17,
        { position: 'right' })
    }
  }),
  plugins: [framePlugin('right')]
});

// ---------- legend ----------
const wrap = document.getElementById('wrap');
const legendCols = [105, 260, 463];
const legendRows = [15, 41];
seriesNames.forEach((nm, i) => {
  const c = i % 3, r = Math.floor(i / 3);
  const ln = document.createElement('div');
  ln.style.cssText = 'position:absolute;left:' + legendCols[c] + 'px;top:' + (legendRows[r] - 1) +
    'px;width:38px;height:2px;background:' + seriesColors[i];
  wrap.appendChild(ln);
  const tx = document.createElement('div');
  tx.className = 't';
  tx.style.cssText = 'left:' + (legendCols[c] + 42) + 'px;top:' + (legendRows[r] - 10) +
    'px;font-size:16px;line-height:20px';
  tx.innerHTML = nm;
  wrap.appendChild(tx);
});
</script>
</body>
</html>
